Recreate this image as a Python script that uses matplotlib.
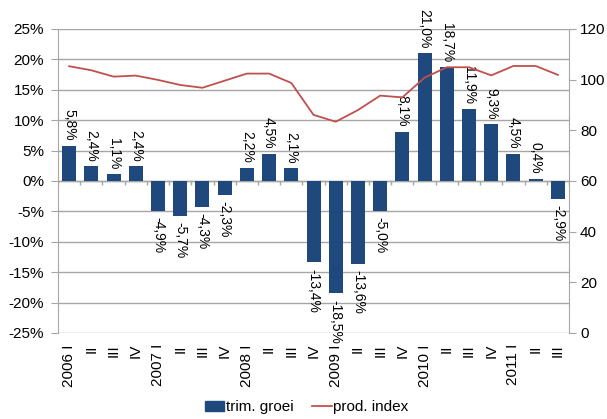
import matplotlib.pyplot as plt
import numpy as np
from matplotlib.patches import Patch
from matplotlib.lines import Line2D

plt.rcParams['font.family'] = ['Liberation Sans', 'DejaVu Sans']

labels = ['2006 I', 'II', 'III', 'IV',
          '2007 I', 'II', 'III', 'IV',
          '2008 I', 'II', 'III', 'IV',
          '2009 I', 'II', 'III', 'IV',
          '2010 I', 'II', 'III', 'IV',
          '2011 I', 'II', 'III']
groei = [5.8, 2.4, 1.1, 2.4, -4.9, -5.7, -4.3, -2.3, 2.2, 4.5, 2.1, -13.4,
         -18.5, -13.6, -5.0, 8.1, 21.0, 18.7, 11.9, 9.3, 4.5, 0.4, -2.9]
index = [105.3, 103.7, 101.2, 101.6, 99.9, 97.9, 96.8, 99.6, 102.4, 102.4, 98.7, 86.1,
         83.4, 88.0, 93.7, 93.0, 100.8, 104.9, 104.9, 101.7, 105.4, 105.4, 101.9]

blue = '#1F497D'
red = '#C0504D'
grid = '#A6A6A6'

fig = plt.figure(figsize=(6.07, 4.19), dpi=100)
ax = fig.add_axes([0.0956, 0.2053, 0.8418, 0.7255])
x = np.arange(len(groei))

ax.set_xlim(-0.5, len(groei) - 0.5)
ax.set_ylim(-25, 25)
ax.set_yticks(np.arange(-25, 26, 5))
ax.set_yticklabels(['%d%%' % v for v in range(-25, 26, 5)])
ax.yaxis.grid(True, color=grid, linewidth=1)
ax.set_axisbelow(True)
ax.bar(x, groei, width=0.63, color=blue, zorder=2)

for xi, v in zip(x, groei):
    txt = ('%.1f%%' % v).replace('.', ',')
    if v >= 0:
        ax.text(xi, v + 0.8, txt, rotation=270, ha='center', va='bottom', fontsize=10)
    else:
        ax.text(xi, v - 1.0, txt, rotation=270, ha='center', va='top', fontsize=10)

# category axis at 0
ax.axhline(0, color=grid, linewidth=1, zorder=1)
ax.vlines(np.arange(-0.5, len(groei)), 0, -0.6, color=grid, linewidth=1)

ax.set_xticks(x)
ax.set_xticklabels(labels, rotation=90, fontsize=11)
ax.tick_params(axis='x', length=0, pad=8)
ax.tick_params(axis='y', length=5, color=grid, labelsize=11, pad=5)
for s in ['top', 'right', 'bottom']:
    ax.spines[s].set_visible(False)
ax.spines['left'].set_color(grid)

ax2 = ax.twinx()
ax2.plot(x, index, color=red, linewidth=1.3)
ax2.set_ylim(0, 120)
ax2.set_yticks(np.arange(0, 121, 20))
ax2.tick_params(axis='y', length=5, color=grid, labelsize=11, pad=3)
for s in ['top', 'left', 'bottom']:
    ax2.spines[s].set_visible(False)
ax2.spines['right'].set_color(grid)

handles = [Patch(color=blue), Line2D([], [], color=red, linewidth=1.3)]
fig.legend(handles, ['trim. groei', 'prod. index'], loc='lower center',
           bbox_to_anchor=(0.505, -0.022), ncol=2, frameon=False, fontsize=11,
           handlelength=1.3, handletextpad=0.1, columnspacing=1.2)

plt.savefig('out.png', dpi=100)
